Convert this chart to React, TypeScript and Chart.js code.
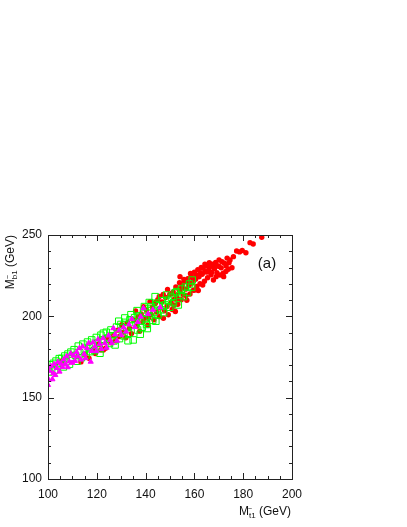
import React, { useEffect, useRef } from "react";
import { Chart, registerables } from "chart.js";

Chart.register(...registerables);

// ---- data (GeV) ----
const redPoints: number[][] = [
  [106.0, 173.0], [113.5, 172.0], [115.2, 176.5], [116.8, 174.2], [118.5, 179.8], [119.4, 177.1],
  [120.9, 183.0], [121.7, 179.5], [122.7, 179.3], [123.6, 180.4], [124.3, 186.9], [125.8, 183.7],
  [126.9, 188.2], [127.7, 185.0], [128.6, 191.5], [129.3, 187.6], [130.2, 194.8], [131.1, 190.3],
  [131.9, 186.8], [132.6, 196.1], [133.4, 192.7], [134.2, 189.4], [135.1, 197.8], [135.9, 203.3],
  [136.3, 193.9], [137.0, 199.6], [137.6, 190.8], [138.2, 201.4], [138.9, 196.7], [139.1, 205.9],
  [139.7, 199.0], [140.4, 203.8], [140.9, 194.6], [141.1, 198.8], [141.8, 209.0], [142.3, 201.2],
  [142.8, 205.7], [143.4, 197.9], [143.9, 207.8], [144.0, 208.5], [144.5, 202.6], [145.0, 210.3],
  [145.6, 199.8], [145.6, 212.2], [146.1, 205.1], [146.7, 208.9], [147.2, 213.5], [147.3, 198.8],
  [147.8, 203.4], [148.2, 211.6], [148.8, 206.2], [149.0, 216.5], [149.3, 201.0], [149.9, 213.4],
  [150.4, 208.3], [150.8, 214.0], [150.9, 204.2], [151.3, 215.0], [151.6, 206.8], [151.8, 210.6],
  [152.2, 203.0], [152.4, 218.0], [152.7, 212.8], [153.0, 211.0], [153.2, 207.4], [153.7, 216.5],
  [153.9, 220.6], [154.1, 215.2], [154.1, 224.4], [154.6, 210.2], [154.8, 217.7], [155.0, 219.3],
  [155.5, 213.3], [155.7, 222.6], [156.0, 221.4], [156.4, 216.7], [156.6, 212.8], [156.9, 209.9],
  [157.3, 223.2], [157.5, 220.9], [157.8, 218.9], [158.2, 213.7], [158.4, 226.4], [158.7, 225.0],
  [159.1, 220.5], [159.3, 223.4], [159.6, 216.0], [160.0, 227.1], [160.2, 216.2], [160.5, 222.8],
  [160.7, 225.5], [161.0, 218.4], [161.4, 228.6], [161.6, 215.9], [161.9, 224.3], [162.3, 220.0],
  [162.5, 226.8], [162.8, 230.0], [163.2, 225.9], [163.4, 219.3], [163.6, 229.5], [164.1, 221.6],
  [164.3, 232.1], [164.5, 227.4], [165.0, 231.2], [165.2, 227.3], [165.4, 223.7], [165.9, 228.8],
  [166.1, 233.0], [166.4, 230.5], [166.8, 225.6], [167.0, 227.0], [167.3, 232.0], [167.8, 222.3],
  [167.9, 230.9], [168.2, 229.3], [168.7, 233.2], [168.9, 224.4], [169.2, 226.8], [169.6, 231.0],
  [170.0, 230.8], [170.1, 234.6], [170.5, 225.4], [171.0, 229.8], [171.3, 233.6], [171.8, 226.5],
  [172.0, 224.4], [172.3, 232.7], [172.9, 227.6], [173.0, 230.9], [173.4, 235.8], [173.9, 228.9],
  [174.2, 233.0], [174.6, 234.6], [175.4, 229.9], [176.0, 236.7], [177.3, 240.2], [178.5, 239.6],
  [179.6, 240.5], [181.1, 239.1], [182.8, 245.3], [184.1, 244.5], [187.6, 248.6],
];

const greenPoints: number[][] = [
  [100.4, 165.8], [100.9, 170.2], [101.5, 167.9], [102.2, 171.1], [102.7, 166.8], [103.3, 172.5],
  [103.9, 169.3], [104.6, 174.0], [105.2, 171.0], [105.6, 174.2], [106.3, 168.9], [106.9, 175.6],
  [107.5, 172.2], [108.2, 176.8], [108.8, 170.6], [109.4, 178.0], [110.0, 174.3], [110.7, 179.5],
  [111.3, 176.0], [111.9, 172.4], [112.4, 181.7], [113.0, 177.6], [113.7, 174.6], [114.3, 182.9],
  [114.9, 179.1], [115.6, 176.2], [116.2, 184.2], [116.8, 180.9], [117.2, 178.3], [117.9, 185.5],
  [118.5, 182.2], [119.1, 179.0], [119.8, 187.0], [120.4, 183.6], [121.0, 180.1], [121.3, 177.3],
  [121.7, 188.4], [122.3, 185.1], [122.7, 189.6], [123.3, 181.9], [123.9, 190.2], [124.5, 186.7],
  [125.2, 183.3], [125.8, 191.6], [126.4, 188.1], [127.0, 184.9], [127.5, 182.4], [128.1, 193.4],
  [128.7, 189.8], [129.0, 197.0], [129.3, 186.3], [129.9, 195.0], [130.5, 191.2], [131.1, 188.0],
  [131.5, 199.0], [131.7, 196.3], [132.3, 193.0], [132.8, 185.0], [133.0, 189.6], [133.6, 197.9],
  [134.0, 201.0], [134.2, 194.4], [134.9, 185.5], [135.5, 199.2], [136.1, 196.0], [136.5, 203.5],
  [136.7, 191.6], [137.3, 200.3], [137.8, 189.0], [137.9, 197.1], [138.6, 193.3], [139.2, 201.9],
  [139.5, 206.0], [139.8, 198.4], [140.4, 195.0], [140.7, 192.5], [141.0, 203.5], [141.5, 208.5],
  [141.6, 200.0], [142.3, 205.9], [142.9, 197.5], [143.5, 202.4], [143.9, 212.1], [144.2, 197.0],
  [144.5, 207.2], [145.1, 200.8], [145.6, 206.5], [146.2, 204.0], [146.9, 209.6], [147.4, 202.3],
  [148.0, 207.0], [148.6, 213.1], [149.2, 210.0], [149.9, 205.6], [150.6, 211.8], [151.4, 208.4],
  [152.1, 214.4], [152.7, 215.2], [153.4, 207.0], [154.0, 212.9], [154.7, 216.8], [155.5, 212.1],
  [156.3, 218.0], [157.2, 214.7], [158.0, 219.9], [158.9, 217.8], [159.1, 222.3],
];

const magentaPoints: number[][] = [
  [100.0, 157.8], [100.3, 161.0], [100.7, 166.5], [101.2, 169.3], [101.8, 161.3], [102.2, 165.0],
  [102.5, 170.6], [103.0, 163.9], [103.6, 168.2], [104.1, 172.0], [104.7, 166.0], [105.3, 170.9],
  [105.9, 168.8], [106.4, 173.5], [107.0, 170.5], [107.6, 175.4], [108.1, 168.7], [108.7, 172.2],
  [109.3, 177.1], [109.9, 171.4], [110.5, 175.8], [111.1, 172.6], [111.7, 178.0], [112.3, 175.3],
  [112.9, 180.4], [113.5, 173.4], [114.2, 181.4], [114.8, 176.9], [115.4, 174.3], [116.0, 180.4],
  [116.7, 183.6], [117.5, 172.1], [117.9, 178.7], [118.5, 184.0], [119.2, 181.4], [119.8, 178.6],
  [120.5, 185.8], [121.2, 183.0], [121.9, 179.9], [122.6, 186.6], [123.3, 183.5], [124.0, 180.7],
  [124.8, 188.2], [125.5, 185.4], [126.1, 183.5], [126.8, 192.7], [127.5, 188.9], [128.3, 185.0],
  [129.1, 191.4], [130.0, 188.5], [131.0, 193.2], [132.0, 190.6], [133.2, 195.0], [134.3, 198.4],
  [135.5, 193.5], [136.8, 196.5], [138.0, 199.8], [139.1, 205.0], [141.0, 201.5], [143.0, 204.0],
  [146.0, 205.5],
];

const xTickLabels = [100, 120, 140, 160, 180, 200];
const yTickLabels = [100, 150, 200, 250];
const xMinorStep = 5;
const yMinorStep = 10;

const toXY = (arr: number[][]) => arr.map(([x, y]) => ({ x, y }));

const FONT = "'Liberation Sans', Arial, sans-serif";

const framePlugin = {
  id: "framePlugin",
  afterDraw(chart: any) {
    const { ctx, chartArea, scales } = chart;
    const xs = scales.x;
    const ys = scales.y;
    const { left, right, top, bottom } = chartArea;
    ctx.save();
    ctx.strokeStyle = "#222";
    ctx.lineWidth = 1;
    ctx.strokeRect(left + 0.5, top + 0.5, right - left, bottom - top);

    ctx.beginPath();
    for (let v = xs.min; v <= xs.max + 1e-6; v += xMinorStep) {
      const px = Math.round(xs.getPixelForValue(v)) + 0.5;
      const major = xTickLabels.includes(v);
      const len = major ? 6 : 3;
      ctx.moveTo(px, bottom);
      ctx.lineTo(px, bottom - len);
      ctx.moveTo(px, top);
      ctx.lineTo(px, top + len);
    }
    for (let v = ys.min; v <= ys.max + 1e-6; v += yMinorStep) {
      const py = Math.round(ys.getPixelForValue(v)) + 0.5;
      const major = yTickLabels.includes(v);
      const len = major ? 6 : 3;
      ctx.moveTo(left, py);
      ctx.lineTo(left + len, py);
      ctx.moveTo(right, py);
      ctx.lineTo(right - len, py);
    }
    ctx.stroke();

    ctx.fillStyle = "#111";
    ctx.font = `12px ${FONT}`;
    ctx.textAlign = "center";
    ctx.textBaseline = "middle";
    xTickLabels.forEach((v) => {
      ctx.fillText(String(v), xs.getPixelForValue(v), bottom + 16);
    });
    ctx.textAlign = "right";
    yTickLabels.forEach((v) => {
      ctx.fillText(String(v), left - 6, ys.getPixelForValue(v));
    });

    const measureTitle = (sub: string) => {
      ctx.textAlign = "left";
      ctx.textBaseline = "alphabetic";
      ctx.font = `12px ${FONT}`;
      const wM = ctx.measureText("M").width;
      ctx.font = `8px ${FONT}`;
      const wSub = ctx.measureText(sub + "1").width;
      ctx.font = `12px ${FONT}`;
      const wRest = ctx.measureText(" (GeV)").width;
      return { wM, wSub, wRest, total: wM + wSub + wRest };
    };
    const paintTitle = (sub: string) => {
      const m = measureTitle(sub);
      ctx.font = `12px ${FONT}`;
      ctx.fillText("M", 0, 0);
      ctx.font = `8px ${FONT}`;
      ctx.fillText(sub + "1", m.wM, 3);
      const wb = ctx.measureText(sub).width;
      ctx.font = `7px ${FONT}`;
      ctx.textAlign = "center";
      ctx.fillText("~", m.wM + wb / 2, -4);
      ctx.textAlign = "left";
      ctx.font = `12px ${FONT}`;
      ctx.fillText(" (GeV)", m.wM + m.wSub, 0);
    };

    ctx.save();
    const mx = measureTitle("t");
    ctx.translate(right - 1 - mx.total, bottom + 36);
    paintTitle("t");
    ctx.restore();

    ctx.save();
    const my = measureTitle("b");
    ctx.translate(14, top + my.total);
    ctx.rotate(-Math.PI / 2);
    paintTitle("b");
    ctx.restore();

    ctx.font = `15px ${FONT}`;
    ctx.textAlign = "center";
    ctx.textBaseline = "middle";
    ctx.fillStyle = "#111";
    ctx.fillText("(a)", 267, 264);
    ctx.restore();
  },
};

export default function App() {
  const ref = useRef<HTMLCanvasElement | null>(null);
  useEffect(() => {
    if (!ref.current) return;
    const chart = new Chart(ref.current, {
      type: "scatter",
      data: {
        datasets: [
          {
            label: "magenta",
            data: toXY(magentaPoints),
            pointStyle: "triangle",
            radius: 3,
            backgroundColor: "#ff00ff",
            borderColor: "#ff00ff",
            borderWidth: 1,
            order: 0,
          },
          {
            label: "green",
            data: toXY(greenPoints),
            pointStyle: "rect",
            radius: 4.6,
            backgroundColor: "rgba(0,0,0,0)",
            borderColor: "#00ff00",
            borderWidth: 1,
            order: 1,
          },
          {
            label: "red",
            data: toXY(redPoints),
            pointStyle: "circle",
            radius: 2.7,
            backgroundColor: "#ff0000",
            borderColor: "#ff0000",
            borderWidth: 0,
            order: 2,
          },
        ],
      },
      options: {
        animation: false,
        responsive: false,
        devicePixelRatio: 1,
        layout: { padding: { left: 48, top: 235, right: 115, bottom: 48 } },
        plugins: { legend: { display: false }, tooltip: { enabled: false } },
        scales: {
          x: { type: "linear", min: 100, max: 200, display: false },
          y: { type: "linear", min: 100, max: 250, display: false },
        },
      },
      plugins: [framePlugin],
    });
    return () => chart.destroy();
  }, []);
  return (
    <div style={{ position: "absolute", left: 0, top: 0, width: 407, height: 527, background: "#fff" }}>
      <canvas ref={ref} width={407} height={527} style={{ width: 407, height: 527, display: "block" }} />
    </div>
  );
}
